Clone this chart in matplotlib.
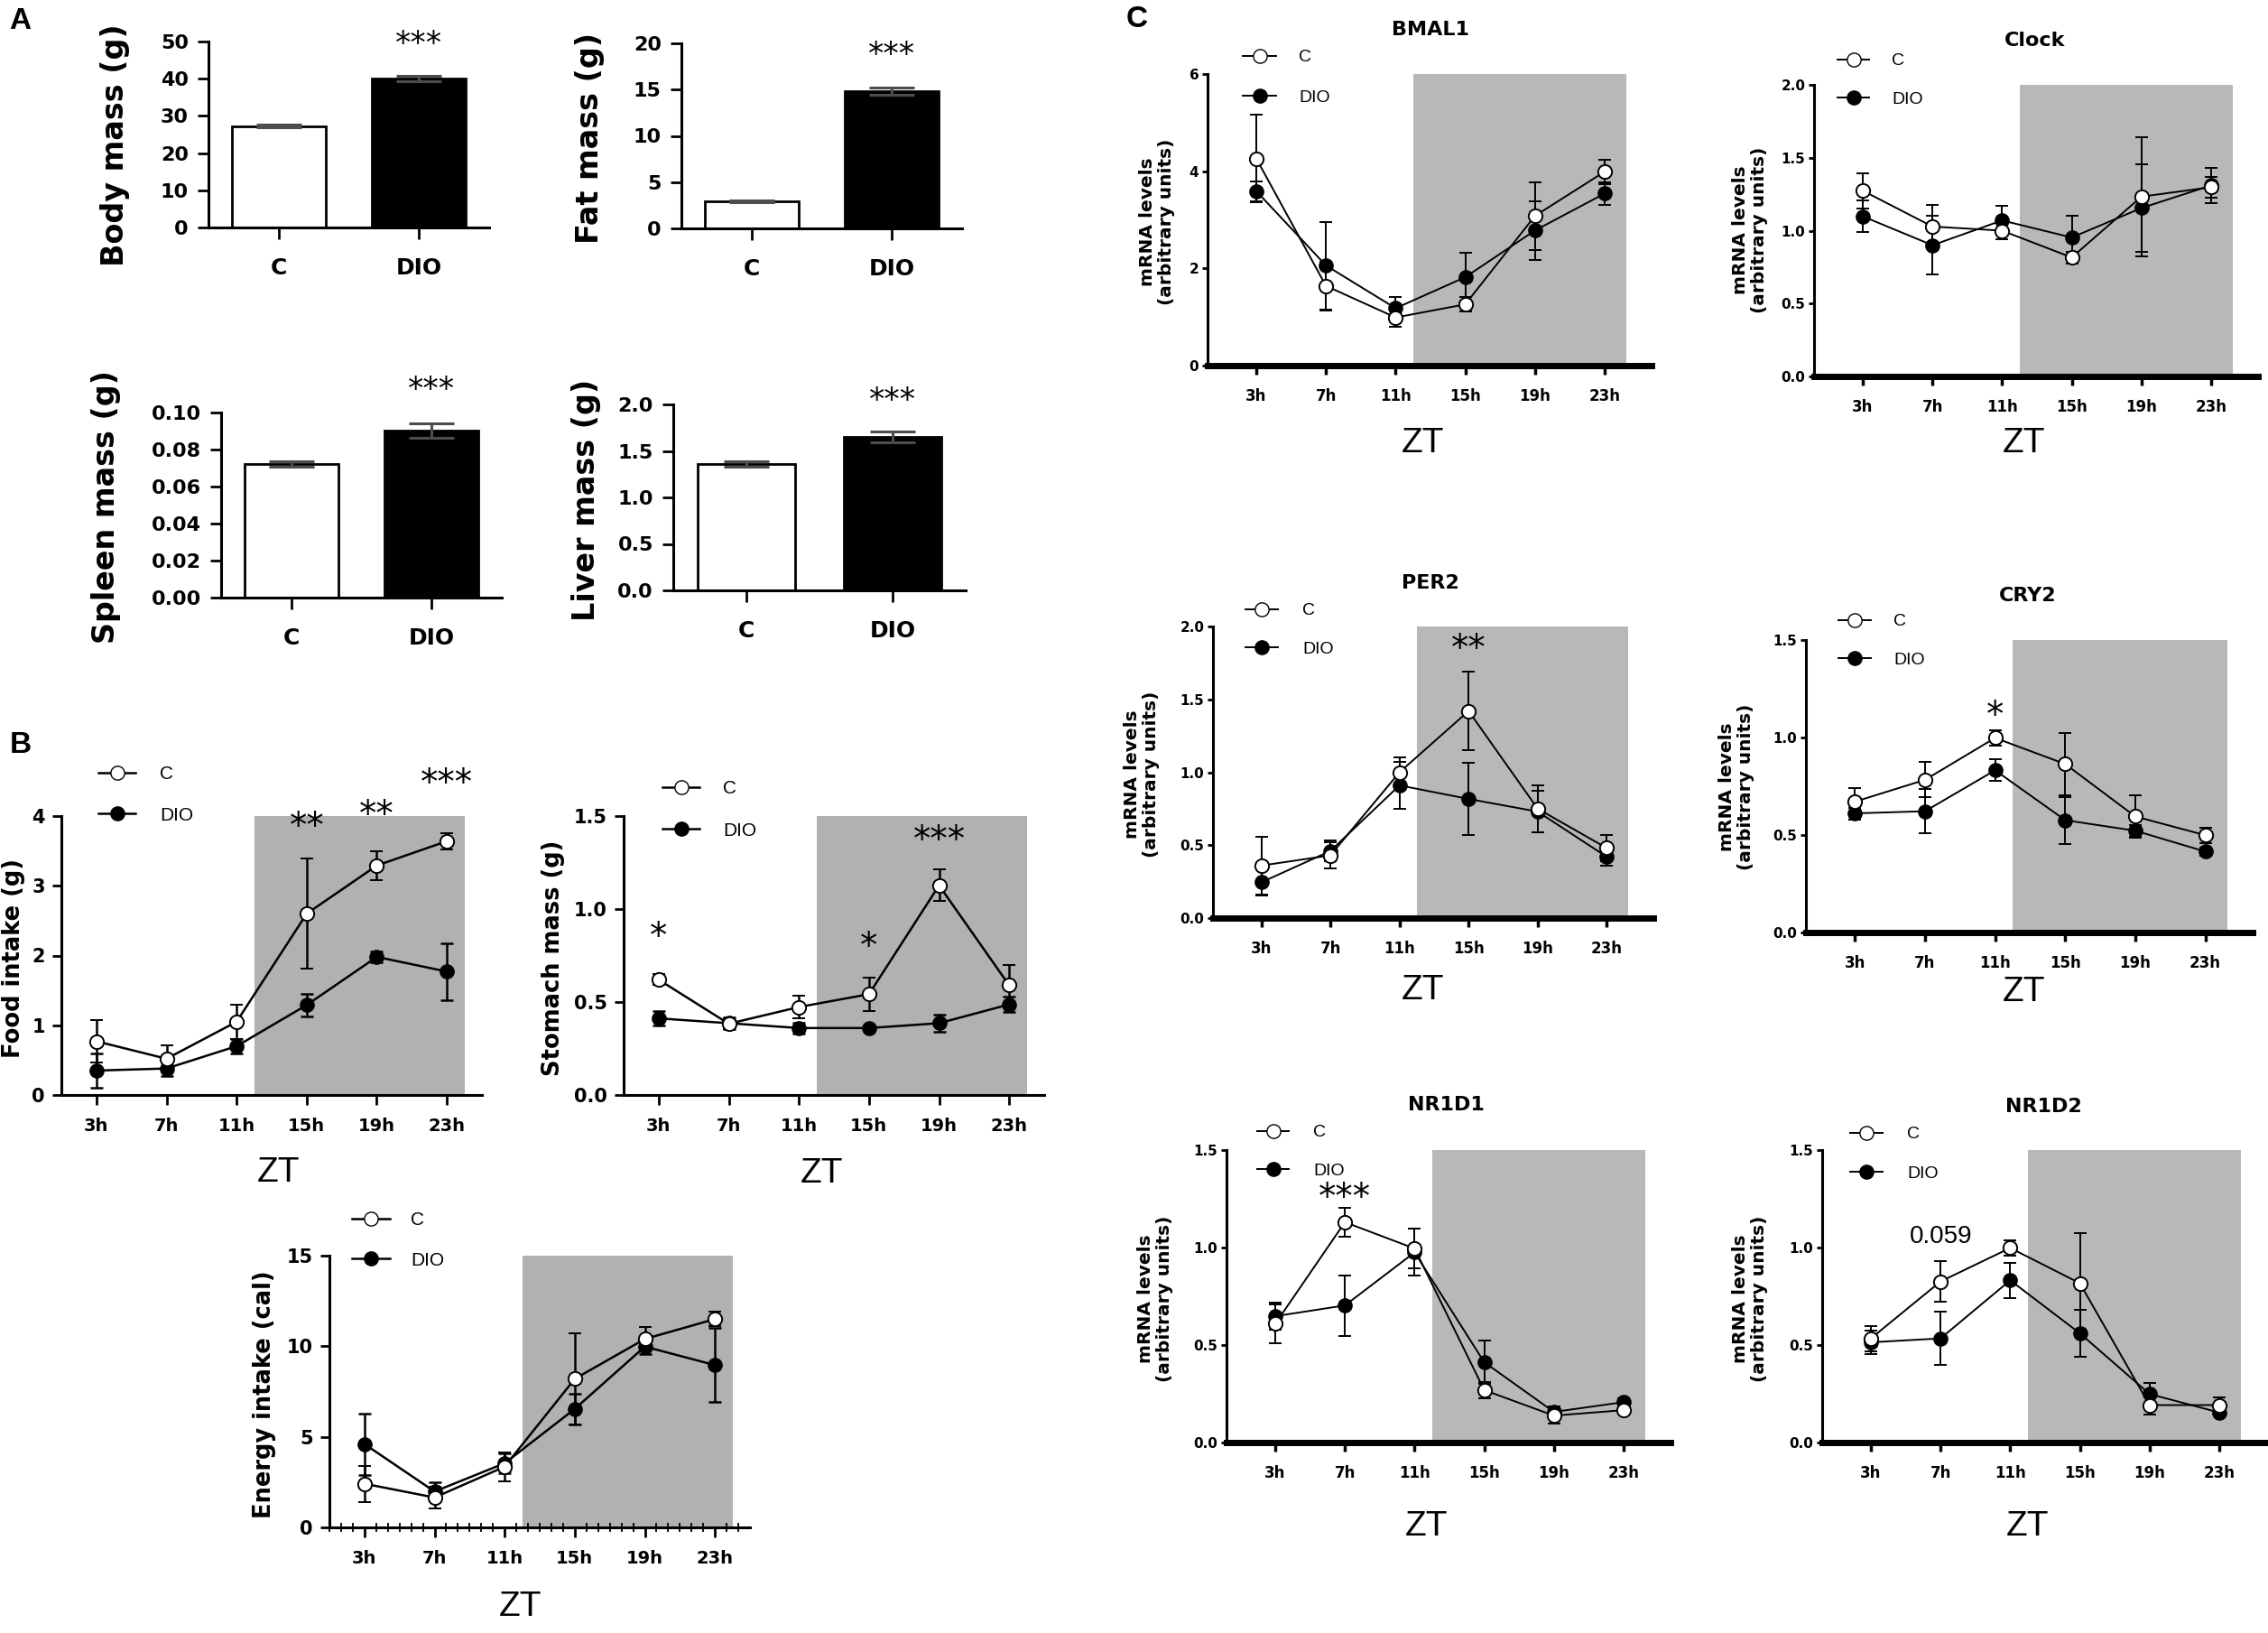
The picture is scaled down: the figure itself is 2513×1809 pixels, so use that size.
import matplotlib
matplotlib.use("Agg")
import matplotlib.pyplot as plt
from matplotlib.lines import Line2D
from matplotlib.transforms import offset_copy

plt.rcParams['font.family'] = ['Liberation Sans', 'DejaVu Sans']
BOLD = dict(fontweight='bold', family=['DejaVu Sans'])

# ---- data ----
groups = ['C', 'DIO']
body_mass = [27.3, 40.1]
body_err = [0.3, 0.75]
fat_mass = [2.9, 14.8]
fat_err = [0.08, 0.4]
spleen_mass = [0.0722, 0.0902]
spleen_err = [0.0014, 0.0038]
liver_mass = [1.36, 1.65]
liver_err = [0.03, 0.058]

zt_hours = [3, 7, 11, 15, 19, 23]
zt_labels = ['3h', '7h', '11h', '15h', '19h', '23h']

food_c = [0.77, 0.52, 1.05, 2.60, 3.29, 3.64]
food_c_err = [0.31, 0.19, 0.25, 0.79, 0.21, 0.12]
food_dio = [0.35, 0.38, 0.70, 1.29, 1.98, 1.77]
food_dio_err = [0.25, 0.11, 0.10, 0.16, 0.08, 0.41]

stomach_c = [0.62, 0.383, 0.473, 0.542, 1.127, 0.59]
stomach_c_err = [0.03, 0.03, 0.06, 0.09, 0.085, 0.11]
stomach_dio = [0.412, 0.386, 0.36, 0.36, 0.386, 0.487]
stomach_dio_err = [0.04, 0.03, 0.03, 0.01, 0.045, 0.04]

energy_c = [2.41, 1.65, 3.35, 8.2, 10.4, 11.5]
energy_c_err = [1.0, 0.6, 0.8, 2.5, 0.65, 0.4]
energy_dio = [4.6, 1.98, 3.54, 6.54, 9.98, 8.96]
energy_dio_err = [1.7, 0.5, 0.55, 0.85, 0.4, 2.05]

bmal1_c = [4.26, 1.64, 0.99, 1.26, 3.08, 3.99]
bmal1_c_err = [0.9, 0.5, 0.2, 0.15, 0.7, 0.25]
bmal1_dio = [3.59, 2.06, 1.18, 1.82, 2.78, 3.54]
bmal1_dio_err = [0.2, 0.9, 0.23, 0.5, 0.6, 0.24]

clock_c = [1.274, 1.028, 1.0, 0.816, 1.233, 1.298]
clock_c_err = [0.12, 0.15, 0.06, 0.04, 0.41, 0.07]
clock_dio = [1.098, 0.90, 1.07, 0.953, 1.155, 1.31]
clock_dio_err = [0.11, 0.2, 0.1, 0.15, 0.30, 0.12]

per2_c = [0.36, 0.43, 1.0, 1.42, 0.75, 0.48]
per2_c_err = [0.2, 0.09, 0.1, 0.27, 0.16, 0.09]
per2_dio = [0.245, 0.46, 0.91, 0.817, 0.73, 0.42]
per2_dio_err = [0.09, 0.07, 0.16, 0.25, 0.14, 0.06]

cry2_c = [0.671, 0.783, 0.998, 0.864, 0.595, 0.499]
cry2_c_err = [0.07, 0.09, 0.04, 0.16, 0.11, 0.04]
cry2_dio = [0.611, 0.622, 0.832, 0.576, 0.522, 0.415]
cry2_dio_err = [0.03, 0.115, 0.055, 0.12, 0.03, 0.02]

nr1d1_c = [0.609, 1.13, 0.995, 0.269, 0.138, 0.166]
nr1d1_c_err = [0.1, 0.075, 0.1, 0.04, 0.04, 0.02]
nr1d1_dio = [0.648, 0.703, 0.975, 0.412, 0.157, 0.207]
nr1d1_dio_err = [0.07, 0.155, 0.12, 0.11, 0.03, 0.02]

nr1d2_c = [0.534, 0.826, 0.998, 0.817, 0.192, 0.192]
nr1d2_c_err = [0.065, 0.105, 0.04, 0.255, 0.05, 0.04]
nr1d2_dio = [0.514, 0.534, 0.832, 0.56, 0.249, 0.154]
nr1d2_dio_err = [0.06, 0.138, 0.09, 0.12, 0.055, 0.01]

W, H = 2513, 1809
fig = plt.figure(figsize=(W / 100, H / 100), dpi=100)


def add_ax(box):
    l, t, r, b = box
    return fig.add_axes([l / W, 1 - b / H, (r - l) / W, (b - t) / H])


def ax_coords(box, x, y):
    l, t, r, b = box
    return (x - l) / (r - l), (b - y) / (b - t)


def note(ax, x, y, txt, fs):
    # asterisks sit high in the text box, pull them down so the glyphs centre on y
    if '*' in txt:
        shift, fam = -0.31, ['DejaVu Sans']
    else:
        shift, fam = -0.1, ['Liberation Sans', 'DejaVu Sans']
    tr = offset_copy(ax.transData, fig=fig, y=shift * fs, units='points')
    ax.text(x, y, txt, fontsize=fs, family=fam, ha='center', va='center',
            clip_on=False, transform=tr)


def bar_panel(box, vals, errs, ylim, yticks, fmt, ylab, ylab_pos, star_y):
    ax = add_ax(box)
    ax.bar([0, 1], vals, width=0.67, color=['white', 'black'], edgecolor='black',
           linewidth=2, yerr=errs,
           error_kw=dict(ecolor='#4d4d4d', elinewidth=2.2, capsize=18, capthick=2.2))
    ax.set_xlim(-0.5, 1.5)
    ax.set_ylim(*ylim)
    for s in ['top', 'right']:
        ax.spines[s].set_visible(False)
    for s in ['left', 'bottom']:
        ax.spines[s].set_linewidth(2.2)
    ax.set_xticks([0, 1], groups, fontsize=18, **BOLD)
    ax.set_yticks(yticks, [fmt.format(v) for v in yticks], fontsize=16, **BOLD)
    ax.tick_params(axis='x', length=9, width=2, pad=15)
    ax.tick_params(axis='y', length=9, width=2, pad=7)
    ax.set_ylabel(ylab, fontsize=24, va='center', ha='center', **BOLD)
    ax.yaxis.set_label_coords(*ax_coords(box, *ylab_pos))
    note(ax, 1, star_y, '***', 25)
    return ax


def ts_panel(box, c, c_err, d, d_err, ylim, yticks, fmt, kind, leg, ylab, ylab_pos,
             zt_pos, title=None, title_pos=None, notes=()):
    ax = add_ax(box)
    if kind == 'B':
        xl, gray_end, gray, lw = (1, 25), 24, '#b1b1b1', 1.8
        xsize, ysize, lsize, labsize = 14, 15, 15, 18.5
    else:
        xl, gray_end, gray, lw = (0.2, 25.7), 24.25, '#b8b8b8', 1.4
        xsize, ysize, lsize, labsize = 12, 11, 14, 14.5
    ms = 11
    ax.axvspan(12, gray_end, color=gray, lw=0, zorder=0)
    ax.errorbar(zt_hours, d, yerr=d_err, color='k', lw=lw, marker='o', ms=ms,
                mfc='k', mec='k', capsize=5, elinewidth=lw, capthick=lw, zorder=3)
    ax.errorbar(zt_hours, c, yerr=c_err, color='k', lw=lw, marker='o', ms=ms,
                mfc='white', mec='k', mew=1.4, capsize=5, elinewidth=lw,
                capthick=lw, zorder=4)
    ax.set_xlim(*xl)
    ax.set_ylim(*ylim)
    for s in ['top', 'right']:
        ax.spines[s].set_visible(False)
    ax.spines['left'].set_linewidth(2.2)
    ax.spines['bottom'].set_linewidth(2.2 if kind == 'B' else 5)
    ax.set_xticks(zt_hours, zt_labels, fontsize=xsize, **BOLD)
    ax.set_yticks(yticks, [fmt.format(v) for v in yticks], fontsize=ysize, **BOLD)
    if kind == 'B':
        ax.tick_params(axis='x', length=8, width=2, pad=10)
        ax.tick_params(axis='y', length=7, width=2, pad=6)
    else:
        ax.tick_params(axis='x', length=7, width=2.5, pad=11)
        ax.tick_params(axis='y', length=4, width=2, pad=3)

    # legend: handle left edge, first row centre, row gap, text start, handle length (px)
    hx, hy, gap, tx, hlen = leg
    fs_px = lsize * 100 / 72
    rowh = 0.94 * fs_px
    hy = hy + 3
    handles = [Line2D([], [], color='k', lw=lw, marker='o', ms=ms, mfc='white', mec='k'),
               Line2D([], [], color='k', lw=lw, marker='o', ms=ms, mfc='k', mec='k')]
    ax.legend(handles, ['C', 'DIO'], loc='upper left',
              bbox_to_anchor=(hx / W, 1 - (hy - rowh / 2) / H),
              bbox_transform=fig.transFigure, frameon=False, borderpad=0,
              borderaxespad=0, handlelength=hlen / fs_px,
              handletextpad=(tx - hx - hlen) / fs_px,
              labelspacing=(gap - rowh) / fs_px, fontsize=lsize, numpoints=1)

    ax.set_ylabel(ylab, fontsize=labsize, va='center', ha='center', linespacing=1.1, **BOLD)
    ax.yaxis.set_label_coords(*ax_coords(box, *ylab_pos))
    ax.set_xlabel('ZT', fontsize=28, va='center')
    ax.xaxis.set_label_coords(*ax_coords(box, *zt_pos))
    if title:
        tx_, ty_ = ax_coords(box, *title_pos)
        ax.set_title(title, fontsize=16, x=tx_, y=ty_, va='center', pad=0, **BOLD)
    for xh, yv, txt, fs in notes:
        note(ax, xh, yv, txt, fs)
    return ax


# ---- panel A ----
bar_panel((231, 46, 542, 252), body_mass, body_err, (0, 50), [0, 10, 20, 30, 40, 50],
          '{:d}', 'Body mass (g)', (128, 161), 52.0)
bar_panel((755, 48, 1066, 253), fat_mass, fat_err, (0, 20), [0, 5, 10, 15, 20],
          '{:d}', 'Fat mass (g)', (653, 153), 19.8)
bar_panel((245, 457, 556, 662), spleen_mass, spleen_err, (0, 0.1),
          [0, 0.02, 0.04, 0.06, 0.08, 0.10], '{:.2f}', 'Spleen mass (g)', (117, 562), 0.1176)
bar_panel((746, 448, 1070, 654), liver_mass, liver_err, (0, 2.0),
          [0, 0.5, 1.0, 1.5, 2.0], '{:.1f}', 'Liver mass (g)', (649, 554), 2.146)

# ---- panel B ----
ts_panel((68, 904, 534, 1213), food_c, food_c_err, food_dio, food_dio_err, (0, 4),
         [0, 1, 2, 3, 4], '{:d}', 'B', (109, 855, 46, 177, 41), 'Food intake (g)',
         (15, 1062), (309, 1299),
         notes=[(15, 4.0, '**', 28), (19, 4.17, '**', 28), (23, 4.62, '***', 28)])
ts_panel((691, 904, 1157, 1213), stomach_c, stomach_c_err, stomach_dio, stomach_dio_err,
         (0, 1.5), [0, 0.5, 1.0, 1.5], '{:.1f}', 'B', (734, 871, 47, 801, 41),
         'Stomach mass (g)', (613, 1061), (911, 1300),
         notes=[(3, 0.906, '*', 28), (15, 0.854, '*', 28), (19, 1.426, '***', 28)])
ax_e = ts_panel((365, 1391, 831, 1692), energy_c, energy_c_err, energy_dio, energy_dio_err,
                (0, 15), [0, 5, 10, 15], '{:d}', 'B', (390, 1349, 45, 455, 42),
                'Energy intake (cal)', (293, 1545), (577, 1780))
ax_e.set_xticks([3 + k * 4 / 6 for k in range(-3, 33)], minor=True)
ax_e.tick_params(axis='x', which='minor', direction='inout', length=7, width=1.3)

# ---- panel C ----
mrna = 'mRNA levels\n(arbitrary units)'
ts_panel((1338, 82, 1830, 405), bmal1_c, bmal1_c_err, bmal1_dio, bmal1_dio_err, (0, 6),
         [0, 2, 4, 6], '{:d}', 'C', (1377, 61, 45, 1439, 37), mrna, (1282, 246),
         (1577, 491), 'BMAL1', (1585, 33))
ts_panel((2010, 94, 2502, 417), clock_c, clock_c_err, clock_dio, clock_dio_err, (0, 2.0),
         [0, 0.5, 1.0, 1.5, 2.0], '{:.1f}', 'C', (2036, 65, 43, 2096, 35), mrna, (1939, 255),
         (2243, 491), 'Clock', (2255, 45))
ts_panel((1344, 694, 1832, 1017), per2_c, per2_c_err, per2_dio, per2_dio_err, (0, 2.0),
         [0, 0.5, 1.0, 1.5, 2.0], '{:.1f}', 'C', (1380, 674, 43, 1443, 36), mrna, (1265, 858),
         (1577, 1097), 'PER2', (1585, 646), notes=[(15, 1.92, '**', 28)])
ts_panel((2001, 709, 2496, 1033), cry2_c, cry2_c_err, cry2_dio, cry2_dio_err, (0, 1.5),
         [0, 0.5, 1.0, 1.5], '{:.1f}', 'C', (2037, 686, 43, 2098, 36), mrna, (1924, 872),
         (2243, 1099), 'CRY2', (2247, 660), notes=[(11, 1.167, '*', 28)])
ts_panel((1359, 1274, 1851, 1598), nr1d1_c, nr1d1_c_err, nr1d1_dio, nr1d1_dio_err, (0, 1.5),
         [0, 0.5, 1.0, 1.5], '{:.1f}', 'C', (1393, 1252, 43, 1455, 35), mrna, (1280, 1439),
         (1581, 1691), 'NR1D1', (1602, 1224), notes=[(7, 1.31, '***', 28)])
ts_panel((2019, 1274, 2511, 1598), nr1d2_c, nr1d2_c_err, nr1d2_dio, nr1d2_dio_err, (0, 1.5),
         [0, 0.5, 1.0, 1.5], '{:.1f}', 'C', (2050, 1254, 44, 2113, 36), mrna, (1939, 1439),
         (2247, 1691), 'NR1D2', (2264, 1226), notes=[(7, 1.067, '0.059', 20)])

for lab, x, y in [('A', 22, 24), ('B', 23, 826), ('C', 1260, 22)]:
    fig.text(x / W, 1 - y / H, lab, fontsize=24, fontweight='bold', ha='center', va='center')

fig.savefig('out.png', dpi=100)
